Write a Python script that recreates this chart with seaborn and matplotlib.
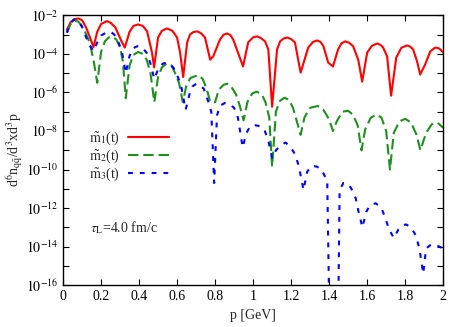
import numpy as np
import pandas as pd
import matplotlib
matplotlib.use("Agg")
import matplotlib.pyplot as plt
import matplotlib.ticker as mticker
import seaborn as sns

# p [GeV] and log10 of the spectrum
p_m1 = [0.02, 0.04, 0.06, 0.08, 0.10, 0.12, 0.14, 0.16, 0.18, 0.20, 0.23, 0.25, 0.275, 0.31,
        0.325, 0.35, 0.37, 0.395, 0.42, 0.442, 0.468, 0.479, 0.50, 0.52, 0.547, 0.575, 0.60,
        0.616, 0.632, 0.653, 0.668, 0.685, 0.705, 0.725, 0.747, 0.774, 0.79, 0.826, 0.845,
        0.863, 0.88, 0.895, 0.947, 0.974, 1.0, 1.02, 1.04, 1.063, 1.08, 1.10, 1.126, 1.142,
        1.16, 1.18, 1.20, 1.22, 1.25, 1.29, 1.315, 1.337, 1.355, 1.37, 1.395, 1.42, 1.447,
        1.465, 1.484, 1.505, 1.526, 1.553, 1.574, 1.60, 1.625, 1.653, 1.67, 1.684, 1.705,
        1.726, 1.753, 1.78, 1.81, 1.826, 1.842, 1.863, 1.879, 1.905, 1.932, 1.958, 1.98, 2.0]
log_m1 = [-2.75, -2.35, -2.2, -2.16, -2.25, -2.6, -3.1, -3.65, -2.85, -2.45, -2.3, -2.38, -2.62, -3.4,
          -3.67, -2.85, -2.55, -2.47, -2.55, -2.83, -3.93, -4.7, -3.15, -2.8, -2.68, -2.8, -3.15,
          -3.93, -5.2, -3.4, -2.99, -2.87, -2.83, -2.92, -3.15, -4.3, -4.13, -3.25, -3.0,
          -2.94, -3.02, -3.25, -4.65, -3.4, -3.14, -3.09, -3.17, -3.35, -3.77, -6.74, -3.77, -3.35,
          -3.2, -3.15, -3.23, -3.4, -4.97, -3.67, -3.38, -3.3, -3.38, -3.6, -4.45, -4.65, -3.77,
          -3.45, -3.35, -3.42, -3.6, -4.3, -5.44, -3.93, -3.58, -3.46, -3.53, -3.67, -4.13,
          -6.17, -4.19, -3.68, -3.56, -3.62, -3.77, -4.4, -5.07, -4.55, -3.87, -3.67, -3.72, -3.93]

p_m2 = [0.02, 0.04, 0.06, 0.08, 0.10, 0.12, 0.14, 0.16, 0.18, 0.20, 0.22, 0.24, 0.26, 0.28,
        0.30, 0.315, 0.33, 0.35, 0.37, 0.395, 0.42, 0.44, 0.46, 0.48, 0.50, 0.52, 0.545, 0.57,
        0.59, 0.61, 0.63, 0.65, 0.67, 0.71, 0.735, 0.755, 0.775, 0.80, 0.82, 0.845, 0.865,
        0.885, 0.91, 0.93, 0.95, 0.97, 0.995, 1.02, 1.045, 1.065, 1.085, 1.10, 1.12, 1.14,
        1.165, 1.19, 1.21, 1.23, 1.25, 1.27, 1.30, 1.34, 1.37, 1.40, 1.42, 1.44, 1.47, 1.50,
        1.525, 1.55, 1.57, 1.59, 1.62, 1.65, 1.675, 1.70, 1.72, 1.74, 1.77, 1.80, 1.83, 1.86,
        1.88, 1.91, 1.94, 1.97, 2.0]
log_m2 = [-2.9, -2.45, -2.27, -2.32, -2.55, -2.95, -3.4, -4.3, -5.5, -3.9, -3.35, -3.15, -3.1, -3.25,
          -3.65, -4.4, -6.3, -4.6, -4.05, -3.9, -4.0, -4.3, -5.0, -6.5, -5.2, -4.7, -4.5, -4.6,
          -5.0, -5.5, -6.5, -5.6, -5.25, -5.1, -5.3, -5.8, -6.5, -6.5, -5.85, -5.6, -5.55,
          -5.7, -6.1, -6.7, -7.45, -6.5, -6.05, -5.96, -6.1, -6.5, -7.3, -9.85, -7.0, -6.45,
          -6.27, -6.4, -6.8, -7.5, -8.2, -7.3, -6.8, -6.7, -6.9, -7.4, -8.0, -7.5, -7.0, -6.95,
          -7.15, -7.7, -9.0, -7.9, -7.3, -7.15, -7.3, -8.0, -10.0, -8.1, -7.5, -7.37, -7.55, -8.2,
          -9.0, -8.1, -7.65, -7.57, -7.83]

p_m3 = [0.02, 0.04, 0.06, 0.08, 0.10, 0.12, 0.14, 0.16, 0.18, 0.20, 0.225, 0.25, 0.27, 0.29,
        0.31, 0.33, 0.35, 0.37, 0.39, 0.42, 0.44, 0.46, 0.48, 0.50, 0.525, 0.55, 0.58, 0.60,
        0.62, 0.645, 0.665, 0.68, 0.70, 0.72, 0.74, 0.765, 0.78, 0.795, 0.81, 0.825, 0.85,
        0.875, 0.90, 0.92, 0.945, 0.965, 0.985, 1.01, 1.035, 1.06, 1.08, 1.10, 1.12, 1.145,
        1.17, 1.195, 1.22, 1.24, 1.265, 1.285, 1.31, 1.335, 1.36, 1.39, 1.405, 1.445, 1.455,
        1.475, 1.49, 1.515, 1.54, 1.555, 1.575, 1.595, 1.615, 1.645, 1.675, 1.695, 1.715, 1.74,
        1.765, 1.785, 1.805, 1.83, 1.855, 1.875, 1.895, 1.91, 1.935, 1.96, 1.98, 2.0]
log_m3 = [-2.9, -2.4, -2.2, -2.3, -2.6, -3.1, -3.55, -3.85, -3.4, -3.05, -2.9, -2.85, -3.0, -3.35,
          -3.9, -5.0, -4.1, -3.7, -3.6, -3.7, -3.95, -4.5, -5.3, -4.8, -4.5, -4.45, -4.7, -5.1,
          -5.6, -6.9, -6.1, -5.7, -5.55, -5.65, -5.8, -6.5, -7.0, -10.7, -7.2, -6.7, -6.55,
          -6.6, -6.8, -7.3, -8.85, -8.1, -7.75, -7.7, -7.75, -7.95, -8.5, -9.4, -9.0, -8.75,
          -8.6, -8.8, -9.2, -9.8, -11.06, -10.1, -9.8, -9.85, -10.0, -10.6, -20.0, -20.0, -11.06,
          -10.7, -10.7, -10.95, -11.5, -12.2, -13.0, -12.2, -11.85, -11.75, -12.0, -12.5, -13.1, -13.55,
          -13.1, -12.9, -12.85, -13.0, -13.4, -14.1, -15.4, -14.1, -13.9, -13.9, -14.0, -14.1]

labels = [r'$\tilde{\mathrm{m}}_1$(t)', r'$\tilde{\mathrm{m}}_2$(t)', r'$\tilde{\mathrm{m}}_3$(t)']
colors = ['#ff0000', '#1f8f1f', '#0000ff']
dash_styles = [None, (7.5, 3.5), (3.5, 5.0)]

sns.set_style('ticks')
plt.rcParams['font.family'] = ['Liberation Serif', 'DejaVu Serif']
plt.rcParams['mathtext.fontset'] = 'stix'
plt.rcParams['lines.scale_dashes'] = False

fig = plt.figure(figsize=(4.67, 3.27), dpi=100)
ax = fig.add_axes([0.135, 0.128, 0.814, 0.825])

for p, lg, lab, col, dsh in zip([p_m1, p_m2, p_m3], [log_m1, log_m2, log_m3],
                                 labels, colors, dash_styles):
    df = pd.DataFrame({'p': p, 'n': 10.0 ** np.array(lg)})
    sns.lineplot(data=df, x='p', y='n', ax=ax, color=col, lw=1.5,
                 estimator=None, sort=False, label=lab)
    if dsh is not None:
        ax.lines[-1].set_dashes(dsh)

ax.set_yscale('log')
ax.set_xlim(0, 2)
ax.set_ylim(1e-16, 1e-2)
ax.xaxis.set_major_locator(mticker.MultipleLocator(0.2))
ax.xaxis.set_major_formatter(mticker.FuncFormatter(lambda v, _: f'{v:g}'))
ax.yaxis.set_major_locator(mticker.FixedLocator([10.0 ** e for e in range(-16, -1, 2)]))
ax.yaxis.set_minor_locator(mticker.FixedLocator([10.0 ** e for e in range(-15, -2, 2)]))
ax.yaxis.set_major_formatter(mticker.FuncFormatter(lambda v, _: r'$10^{%d}$' % round(np.log10(v))))
ax.yaxis.set_minor_formatter(mticker.NullFormatter())
ax.tick_params(which='both', direction='in', top=True, right=True, length=4, width=0.8,
               labelsize=10, colors='black')
for s in ax.spines.values():
    s.set_linewidth(1.0)
    s.set_color('black')

ax.set_xlabel('p [GeV]', fontsize=10, labelpad=4)
ax.set_ylabel(r'd$^6$n$_{\mathrm{q\bar{q}}}$/d$^3$xd$^3$p', fontsize=10, labelpad=1)

ax.text(0.14, 10.0 ** -13, r'$\tau_\mathrm{L}$=4.0 fm/c', fontsize=10, va='center', ha='left')

ax.legend(loc='upper right', bbox_to_anchor=(0.28, 0.575), frameon=False, markerfirst=False,
          fontsize=10, handlelength=3.0, handletextpad=0.6, labelspacing=0.05,
          borderaxespad=0, borderpad=0)

fig.savefig('out.png', dpi=100)
